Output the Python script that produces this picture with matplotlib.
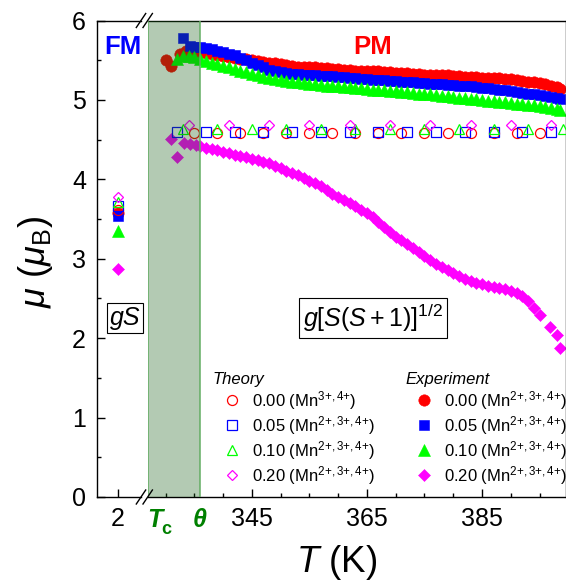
import matplotlib
matplotlib.use("Agg")
import matplotlib.pyplot as plt
from matplotlib.lines import Line2D
from matplotlib.ticker import FixedLocator, MultipleLocator

plt.rcParams['font.family'] = ['Liberation Sans', 'DejaVu Sans']
plt.rcParams['mathtext.fontset'] = 'custom'
plt.rcParams['mathtext.rm'] = 'Liberation Sans'
plt.rcParams['mathtext.it'] = 'Liberation Sans:italic'
plt.rcParams['mathtext.bf'] = 'Liberation Sans:bold'

# ---------------- data ----------------
Tc, theta = 327.0, 336.0

# low-temperature (FM) segment, T = 2 K : gS
low_T = [2]
gS_theo_000 = [3.62]
gS_theo_005 = [3.66]
gS_theo_010 = [3.71]
gS_theo_020 = [3.78]
gS_exp_000 = [3.58]
gS_exp_005 = [3.54]
gS_exp_010 = [3.35]
gS_exp_020 = [2.87]

# PM segment : theory g[S(S+1)]^1/2
theo_T_000 = [335, 339, 343, 347, 351, 355, 359, 363, 367, 371, 375, 379, 383, 387, 391, 395]
theo_mu_000 = [4.58, 4.58, 4.58, 4.58, 4.58, 4.58, 4.58, 4.58, 4.58, 4.58, 4.58, 4.58, 4.58, 4.58, 4.58, 4.58]
theo_T_005 = [332, 337, 342, 347, 352, 357, 362, 367, 372, 377, 382, 387, 392, 397]
theo_mu_005 = [4.60, 4.60, 4.60, 4.60, 4.60, 4.60, 4.60, 4.60, 4.60, 4.60, 4.60, 4.60, 4.60, 4.60]
theo_T_010 = [333, 339, 345, 351, 357, 363, 369, 375, 381, 387, 393, 399]
theo_mu_010 = [4.64, 4.64, 4.64, 4.64, 4.64, 4.64, 4.64, 4.64, 4.64, 4.64, 4.64, 4.64]
theo_T_020 = [334, 341, 348, 355, 362, 369, 376, 383, 390, 397]
theo_mu_020 = [4.69, 4.69, 4.69, 4.69, 4.69, 4.69, 4.69, 4.69, 4.69, 4.69]

# PM segment : experiment
exp_T_000 = [330.0, 331.0, 332.5, 333.5, 334.5, 335.3,
             336, 337, 338, 339, 340, 341, 342, 343, 344, 345, 346, 347, 348, 349,
             350, 351, 352, 353, 354, 355, 356, 357, 358, 359, 360, 361, 362, 363,
             364, 365, 366, 367, 368, 369, 370, 371, 372, 373, 374, 375, 376, 377,
             378, 379, 380, 381, 382, 383, 384, 385, 386, 387, 388, 389, 390, 391,
             392, 393, 394, 395, 396, 397, 398, 398.5]
exp_mu_000 = [5.50, 5.43, 5.58, 5.61, 5.61, 5.61,
              5.60, 5.59, 5.58, 5.56, 5.55, 5.54, 5.53, 5.52, 5.51, 5.50, 5.49, 5.48, 5.47, 5.46,
              5.45, 5.44, 5.43, 5.42, 5.42, 5.41, 5.41, 5.40, 5.40, 5.39, 5.39, 5.38, 5.38, 5.37,
              5.37, 5.36, 5.36, 5.36, 5.35, 5.35, 5.34, 5.34, 5.34, 5.33, 5.33, 5.32, 5.32, 5.32,
              5.31, 5.31, 5.30, 5.30, 5.29, 5.29, 5.29, 5.28, 5.28, 5.27, 5.27, 5.26, 5.26, 5.25,
              5.24, 5.23, 5.22, 5.21, 5.20, 5.18, 5.16, 5.14]

exp_T_005 = [333.0, 334.2, 335.1,
             336, 337, 338, 339, 340, 341, 342, 343, 344, 345, 346, 347, 348, 349,
             350, 351, 352, 353, 354, 355, 356, 357, 358, 359, 360, 361, 362, 363,
             364, 365, 366, 367, 368, 369, 370, 371, 372, 373, 374, 375, 376, 377,
             378, 379, 380, 381, 382, 383, 384, 385, 386, 387, 388, 389, 390, 391,
             392, 393, 394, 395, 396, 397, 398, 398.5]
exp_mu_005 = [5.78, 5.68, 5.67,
              5.67, 5.66, 5.64, 5.62, 5.60, 5.58, 5.56, 5.53, 5.50, 5.47, 5.44, 5.41, 5.38, 5.36,
              5.35, 5.34, 5.33, 5.325, 5.32, 5.315, 5.31, 5.305, 5.30, 5.295, 5.29, 5.285, 5.28, 5.27,
              5.265, 5.26, 5.255, 5.25, 5.245, 5.24, 5.235, 5.23, 5.225, 5.22, 5.215, 5.21, 5.205, 5.20,
              5.195, 5.19, 5.185, 5.18, 5.175, 5.17, 5.16, 5.155, 5.15, 5.14, 5.13, 5.12, 5.11, 5.10,
              5.09, 5.08, 5.07, 5.06, 5.05, 5.04, 5.02, 5.01]

exp_T_010 = [332, 333, 334, 335,
             336, 337, 338, 339, 340, 341, 342, 343, 344, 345, 346, 347, 348, 349,
             350, 351, 352, 353, 354, 355, 356, 357, 358, 359, 360, 361, 362, 363,
             364, 365, 366, 367, 368, 369, 370, 371, 372, 373, 374, 375, 376, 377,
             378, 379, 380, 381, 382, 383, 384, 385, 386, 387, 388, 389, 390, 391,
             392, 393, 394, 395, 396, 397, 398, 398.5]
exp_mu_010 = [5.52, 5.55, 5.55, 5.54,
              5.52, 5.49, 5.47, 5.45, 5.43, 5.41, 5.39, 5.37, 5.35, 5.33, 5.31, 5.29, 5.27, 5.26,
              5.25, 5.24, 5.23, 5.22, 5.21, 5.20, 5.195, 5.19, 5.18, 5.175, 5.17, 5.165, 5.16, 5.15,
              5.145, 5.14, 5.13, 5.125, 5.12, 5.115, 5.11, 5.10, 5.095, 5.09, 5.08, 5.075, 5.07, 5.06,
              5.05, 5.045, 5.04, 5.03, 5.02, 5.015, 5.01, 5.00, 4.99, 4.985, 4.98, 4.97, 4.96, 4.95,
              4.945, 4.94, 4.93, 4.92, 4.91, 4.90, 4.88, 4.87]

exp_T_020 = [331.0, 331.9, 333.1, 334.2, 335.2,
             336, 337, 338, 339, 340, 341, 342, 343, 344, 345, 346, 347, 348, 349,
             350, 351, 352, 353, 354, 355, 356, 357, 358, 359, 360, 361, 362, 363,
             364, 365, 366, 367, 368, 369, 370, 371, 372, 373, 374, 375, 376, 377,
             378, 379, 380, 381, 382, 383, 384, 385, 386, 387, 388, 389, 390, 391,
             392, 393, 394, 395, 396.8, 398.0, 398.6]
exp_mu_020 = [4.51, 4.28, 4.46, 4.45, 4.43,
              4.42, 4.40, 4.38, 4.37, 4.35, 4.33, 4.31, 4.30, 4.28, 4.26, 4.24, 4.22, 4.20, 4.17,
              4.14, 4.11, 4.08, 4.05, 4.02, 3.98, 3.95, 3.91, 3.87, 3.82, 3.78, 3.74, 3.70, 3.66,
              3.62, 3.57, 3.52, 3.46, 3.40, 3.34, 3.28, 3.23, 3.18, 3.13, 3.08, 3.03, 2.98, 2.94,
              2.90, 2.86, 2.82, 2.78, 2.75, 2.72, 2.70, 2.68, 2.66, 2.65, 2.63, 2.62, 2.60, 2.57,
              2.53, 2.47, 2.38, 2.29, 2.14, 2.04, 1.87]

labels_theo = ["0.00 (Mn$^{3{+},4{+}}$)", "0.05 (Mn$^{2{+},3{+},4{+}}$)",
               "0.10 (Mn$^{2{+},3{+},4{+}}$)", "0.20 (Mn$^{2{+},3{+},4{+}}$)"]
labels_exp = ["0.00 (Mn$^{2{+},3{+},4{+}}$)", "0.05 (Mn$^{2{+},3{+},4{+}}$)",
              "0.10 (Mn$^{2{+},3{+},4{+}}$)", "0.20 (Mn$^{2{+},3{+},4{+}}$)"]
xticks_major = [345, 365, 385]

# ---------------- styles ----------------
RED, BLUE, GREEN, MAG = '#ff0000', '#0000ff', '#00ff00', '#ff00ff'
exp_style = [dict(marker='o', ms=8.2, color=RED),
             dict(marker='s', ms=7.3, color=BLUE),
             dict(marker='^', ms=8.2, color=GREEN),
             dict(marker='D', ms=6.6, color=MAG)]
theo_style = [dict(marker='o', ms=7.2, mec=RED),
              dict(marker='s', ms=6.6, mec=BLUE),
              dict(marker='^', ms=7.8, mec=GREEN),
              dict(marker='D', ms=5.6, mec=MAG)]

W, H = 566, 586
fig = plt.figure(figsize=(W / 100, H / 100), dpi=100)

def fx(px):
    return px / W

def fy(py):
    return 1 - py / H

y_top, y_bot = 20.5, 497.0
hgt = (y_bot - y_top) / H
axL = fig.add_axes([fx(97), fy(y_bot), (141 - 97) / W, hgt])
axR = fig.add_axes([fx(147.5), fy(y_bot), (565.5 - 147.5) / W, hgt])

# ---- experiment (filled) ----
exp_T = [exp_T_000, exp_T_005, exp_T_010, exp_T_020]
exp_mu = [exp_mu_000, exp_mu_005, exp_mu_010, exp_mu_020]
gS_exp = [gS_exp_000, gS_exp_005, gS_exp_010, gS_exp_020]
exp_handles = []
for T, mu, g, st in zip(exp_T, exp_mu, gS_exp, exp_style):
    h, = axR.plot(T, mu, ls='none', marker=st['marker'], ms=st['ms'],
                  mfc=st['color'], mec=st['color'], mew=0.4, zorder=2)
    axL.plot(low_T, g, ls='none', marker=st['marker'], ms=st['ms'],
             mfc=st['color'], mec=st['color'], mew=0.4, zorder=2)
    exp_handles.append(h)

# ---- theory (open) ----
theo_T = [theo_T_000, theo_T_005, theo_T_010, theo_T_020]
theo_mu = [theo_mu_000, theo_mu_005, theo_mu_010, theo_mu_020]
gS_theo = [gS_theo_000, gS_theo_005, gS_theo_010, gS_theo_020]
theo_handles = []
for T, mu, g, st in zip(theo_T, theo_mu, gS_theo, theo_style):
    h, = axR.plot(T, mu, ls='none', marker=st['marker'], ms=st['ms'],
                  mfc='none', mec=st['mec'], mew=0.9, zorder=3)
    axL.plot(low_T, g, ls='none', marker=st['marker'], ms=st['ms'],
             mfc='none', mec=st['mec'], mew=0.9, zorder=3)
    theo_handles.append(h)

# ---- shaded Tc..theta band ----
axR.axvspan(Tc, theta, facecolor='#1b5f19', alpha=0.33, lw=0, zorder=5)
axR.axvline(Tc, color='#63ad63', lw=1.1, zorder=6)
axR.axvline(theta, color='#63ad63', lw=1.1, zorder=6)

# ---- axes settings ----
for ax in (axL, axR):
    ax.set_ylim(0, 6)
    for s in ax.spines.values():
        s.set_linewidth(1.0)
    ax.tick_params(which='both', direction='in', width=1.0, labelsize=18,
                   top=False, right=False)
    ax.tick_params(which='major', length=6)
    ax.tick_params(which='minor', length=3)
    ax.tick_params(axis='x', pad=7)

axL.set_xlim(0, 4.19)
axL.xaxis.set_major_locator(FixedLocator(low_T))
axL.xaxis.set_minor_locator(FixedLocator([]))
axL.yaxis.set_major_locator(MultipleLocator(1))
axL.yaxis.set_minor_locator(MultipleLocator(0.5))
axL.tick_params(axis='y', pad=8)
axL.spines['right'].set_visible(False)

axR.set_xlim(326.83, 399.52)
axR.xaxis.set_major_locator(FixedLocator(xticks_major))
axR.xaxis.set_minor_locator(MultipleLocator(5))
axR.spines['left'].set_visible(False)
axR.tick_params(axis='y', which='both', left=False, labelleft=False)

axL.set_ylabel(r"$\mu$ ($\mu_{\mathrm{B}}$)", fontsize=26)
axL.yaxis.label.set_va('center')
axL.yaxis.set_label_coords((36 - 97) / 44, (y_bot - 262) / (y_bot - y_top))

axR.set_xlabel(r"$T$ (K)", fontsize=26.5)
axR.xaxis.label.set_va('center')
axR.xaxis.set_label_coords((337 - 147.5) / 418, (y_bot - 563) / (y_bot - y_top))

# ---- axis break marks ----
for yc in (y_top, y_bot):
    for xc in (141.0, 147.7):
        fig.add_artist(Line2D([fx(xc - 4.7), fx(xc + 4.7)], [fy(yc + 7), fy(yc - 7)],
                              color='black', lw=1.0, transform=fig.transFigure))

# ---- Tc and theta labels ----
DG = '#008000'
fig.text(fx(155), fy(520), "T", color=DG, fontsize=18, fontweight='bold',
         fontstyle='italic', ha='center', va='center')
fig.text(fx(166.5), fy(529), "c", color=DG, fontsize=13, fontweight='bold',
         ha='center', va='center')
fig.text(fx(200), fy(520), "θ", color=DG, fontsize=18, fontweight='bold',
         fontstyle='italic', ha='center', va='center')

# ---- annotations ----
fig.text(fx(122.5), fy(47.5), "FM", color=BLUE, fontsize=18.5, fontweight='bold',
         ha='center', va='center')
fig.text(fx(373), fy(47), "PM", color=RED, fontsize=18.5, fontweight='bold',
         ha='center', va='center')
fig.text(fx(125), fy(318), "gS", fontsize=18, fontstyle='italic', ha='center', va='center',
         bbox=dict(boxstyle='square,pad=0.12', fc='white', ec='black', lw=0.8))
fig.text(fx(373), fy(318), r"$g[S(S+1)]^{1/2}$", fontsize=18, ha='center', va='center',
         bbox=dict(boxstyle='square,pad=0.15', fc='white', ec='black', lw=0.8))

# ---- legends ----
common = dict(frameon=False, fontsize=12, handlelength=2.25, handletextpad=0.1,
              labelspacing=0.12, borderpad=0, borderaxespad=0, numpoints=1,
              alignment='left', bbox_transform=fig.transFigure, loc='upper left')
leg1 = fig.legend(theo_handles, labels_theo, title="Theory",
                  title_fontproperties=dict(style='italic', size=12),
                  bbox_to_anchor=(fx(213), fy(372)), **common)
leg2 = fig.legend(exp_handles, labels_exp, title="Experiment",
                  title_fontproperties=dict(style='italic', size=12),
                  bbox_to_anchor=(fx(405), fy(372)), **common)
for lg in (leg1, lg2) if False else (leg1, leg2):
    lg._legend_handle_box.sep = 0

fig.savefig("out.png", dpi=100)
